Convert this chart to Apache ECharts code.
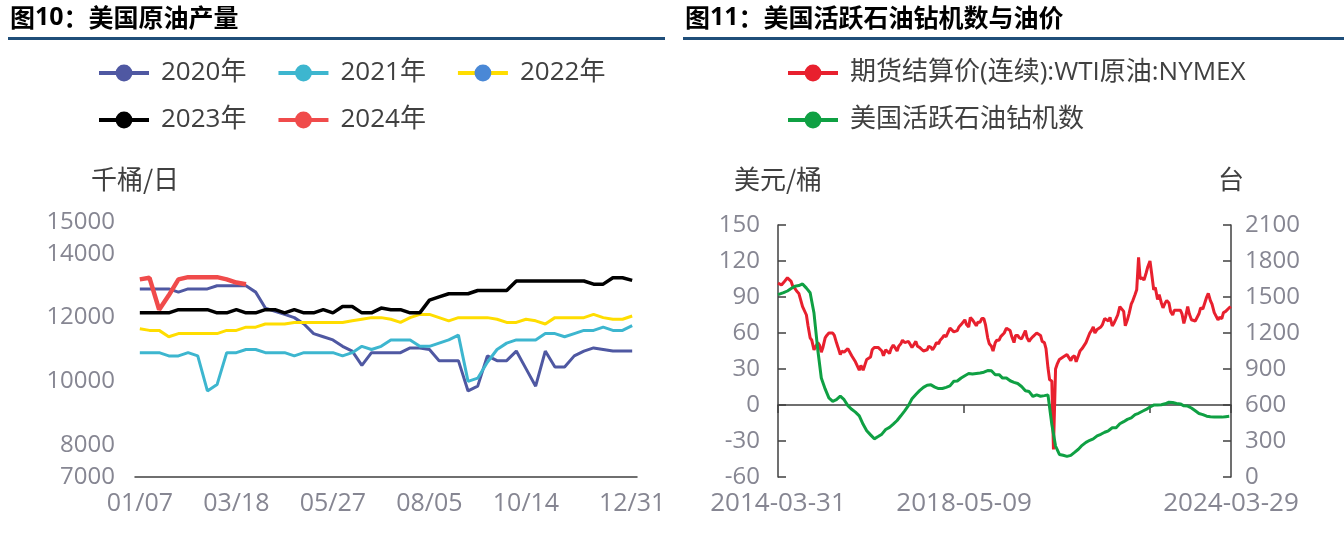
<!DOCTYPE html>
<html><head><meta charset="utf-8">
<script src="https://cdn.jsdelivr.net/npm/echarts@6/dist/echarts.min.js"></script>
<style>html,body{margin:0;padding:0;background:#fff}#c{width:1344px;height:541px}</style>
</head><body><div id="c"></div>
<script>
// ---------- Figure 10 : US crude production (kb/d), weekly ----------
const weekLabels = ['01/07','01/14','01/21','01/28','02/04','02/11','02/18','02/25','03/04','03/11',
  '03/18','03/25','04/01','04/08','04/15','04/22','04/29','05/06','05/13','05/20',
  '05/27','06/03','06/10','06/17','06/24','07/01','07/08','07/15','07/22','07/29',
  '08/05','08/12','08/19','08/26','09/02','09/09','09/16','09/23','09/30','10/07',
  '10/14','10/21','10/28','11/04','11/11','11/18','11/25','12/02','12/09','12/16',
  '12/23','12/31'];
const prod2020 = [12900,12900,12900,12900,12800,12900,12900,12900,13000,13000,
  13000,13000,12800,12300,12200,12100,12000,11800,11500,11400,
  11300,11100,10950,10500,10900,10900,10900,10900,11050,11050,
  11000,10650,10650,10650,9700,9850,10800,10650,10650,10950,
  10400,9850,10950,10450,10450,10800,10950,11050,11000,10950,
  10950,10950];
const prod2021 = [10900,10900,10900,10800,10800,10900,10800,9700,9900,10900,
  10900,11000,11000,10900,10900,10900,10800,10900,10900,10900,
  10900,10800,10900,11100,11000,11100,11300,11300,11300,11100,
  11100,11200,11300,11450,10000,10100,10600,11000,11200,11300,
  11300,11300,11500,11500,11400,11500,11600,11600,11700,11600,
  11600,11750];
const prod2022 = [11650,11600,11600,11400,11500,11500,11500,11500,11500,11600,
  11600,11700,11700,11800,11800,11800,11850,11850,11850,11850,
  11850,11850,11900,11950,12000,12000,11950,11850,12000,12100,
  12100,12000,11900,12000,12000,12000,12000,11950,11850,11850,
  11950,11900,11800,12000,12000,12000,12000,12100,12000,11950,
  11950,12050];
const prod2023 = [12150,12150,12150,12150,12250,12250,12250,12250,12150,12150,
  12250,12150,12150,12250,12250,12150,12250,12150,12150,12250,
  12150,12350,12350,12150,12150,12300,12250,12250,12150,12150,
  12550,12650,12750,12750,12750,12850,12850,12850,12850,13150,
  13150,13150,13150,13150,13150,13150,13150,13050,13050,13250,
  13250,13170];
const prod2024 = [13200,13250,12250,12700,13200,13270,13270,13270,13270,13200,
  13100,13050];
const prodYTicks = [7000, 8000, 10000, 12000, 14000, 15000];

// ---------- Figure 11 : US oil rigs & WTI ----------
const wtiStart = '2014-03-31';
const wtiValues = [101.6,
  103,100, 102,103, 106,106, 103,99, 97,95, 93,92, 82,81, 75,66, 56,54,
  46,47, 52,50, 44,48, 56,58, 60,60, 60,58, 52,48, 42,45, 44,45, 47,46, 41,41, 36,37,
  29,33, 29,33, 38,38, 40,46, 48,49, 48,48, 45,41, 46,46, 43,47, 50,48, 45,49, 51,54,
  52,53, 53,54, 48,50, 53,49, 48,49, 45,44, 46,49, 48,46, 49,52, 51,54, 56,58, 57,60,
  64,65, 61,62, 62,65, 67,68, 71,67, 65,73, 71,69, 66,69, 69,72, 72,67, 56,51, 49,45,
  52,54, 54,57, 58,60, 64,64, 62,57, 52,58, 58,56, 55,56, 62,56, 53,55, 57,57, 60,61,
  58,53, 52,47, 31,21, 20,-37, 30,34, 38,39, 40,41, 42,43, 37,40, 41,36, 41,45, 47,48,
  52,52, 60,62, 65,60, 63,64, 65,67, 72,73, 70,73, 66,68, 72,75, 82,83, 78,66, 71,76,
  84,87, 92,96, 123,105, 106,104, 110,115, 120,110, 96,98, 88,92, 85,81, 85,87, 85,78, 75,79,
  79,78, 79,76, 68,73, 82,76, 71,70, 70,70, 76,81, 80,80, 90,93, 87,84, 77,76, 71,73,
  72,77, 78,78, 81,82];
const rigValues = [1520,
  1535,1536,1550,1570,1590,1595,1609,1574,1536,
  1366,1056,825,734,660,631,645,674,644,595,564,541,
  510,439,386,351,318,337,357,396,414,441,471,510,
  551,597,652,688,720,747,765,768,749,737,738,747,
  759,798,800,825,844,862,858,862,866,873,887,885,
  852,853,824,825,802,789,779,754,719,712,671,685,
  673,678,683,438,258,188,181,172,180,205,231,264,
  289,306,318,343,356,373,385,410,411,444,461,480,
  492,520,531,548,563,584,599,601,602,610,623,621,
  613,609,593,591,575,552,529,520,507,502,500,501,
  499,503,506];
const xStart = '2014-03-31', xEnd = '2024-03-29';
const dateTicks = ['2014-03-31','2018-05-09','2022-06-17','2024-03-29'];
const dateLabels = ['2014-03-31','2018-05-09','2024-03-29'];

function utc(s){const p=s.split('-').map(Number);return Date.UTC(p[0],p[1]-1,p[2]);}
function fmt(t){const d=new Date(t);const z=n=>(n<10?'0':'')+n;return d.getUTCFullYear()+'-'+z(d.getUTCMonth()+1)+'-'+z(d.getUTCDate());}
// semimonthly dates for WTI (15th, 28th), monthly (15th) for rigs
const wtiDates=[utc(wtiStart)], rigDates=[utc(wtiStart)];
for(let y=2014,m=4;!(y===2024&&m===4);){
  wtiDates.push(Date.UTC(y,m-1,15)); wtiDates.push(Date.UTC(y,m-1,28));
  rigDates.push(Date.UTC(y,m-1,15));
  m++; if(m>12){m=1;y++;}
}
const wtiData = wtiValues.map((v,i)=>[wtiDates[i],v]);
const rigData = rigValues.map((v,i)=>[rigDates[i],v]);

const FONT = "'Open Sans','Noto Sans CJK SC',sans-serif";
const CJK = "'Noto Sans CJK SC',sans-serif";
const LBL = '#868692', AX = '#404040', TXT = '#404040';
const labelIdx = [0,10,20,30,40,51];
const plain = (v)=>String(v);
const legendBase = {itemWidth:50, itemHeight:21, itemGap:30, lineStyle:{width:4},
  textStyle:{fontSize:26,color:TXT,fontFamily:FONT,padding:[0,0,0,7]}};

const chart = echarts.init(document.getElementById('c'), null, {renderer:'canvas'});
chart.setOption({
  animation:false,
  textStyle:{fontFamily:FONT},
  title:[
    {left:5, top:0, text:'{b|图}{n|10}{b|：美国原油产量}',
     textStyle:{rich:{b:{fontSize:25,fontWeight:'bold',color:'#000',fontFamily:CJK},n:{fontSize:25,color:'#000',fontFamily:FONT}}}},
    {left:680, top:0, text:'{b|图}{n|11}{b|：美国活跃石油钻机数与油价}',
     textStyle:{rich:{b:{fontSize:25,fontWeight:'bold',color:'#000',fontFamily:CJK},n:{fontSize:25,color:'#000',fontFamily:FONT}}}}
  ],
  graphic:[
    {type:'rect', shape:{x:8,y:37,width:657,height:3}, style:{fill:'#1F4E79'}},
    {type:'rect', shape:{x:683,y:37,width:661,height:3}, style:{fill:'#1F4E79'}}
  ],
  legend:[
    Object.assign({left:92, top:55, data:['2020年','2021年','2022年']}, legendBase),
    Object.assign({left:92, top:102, data:['2023年','2024年']}, legendBase),
    Object.assign({left:781, top:55, data:['期货结算价(连续):WTI原油:NYMEX']}, legendBase),
    Object.assign({left:781, top:102, data:['美国活跃石油钻机数']}, legendBase)
  ],
  grid:[
    {left:135, right:707, top:222, bottom:64},
    {left:778, right:113, top:225, bottom:64}
  ],
  xAxis:[
    {type:'category', gridIndex:0, data:weekLabels, boundaryGap:true,
     axisLine:{lineStyle:{color:AX,width:1.5}},
     axisTick:{length:8, lineStyle:{color:AX,width:1.5}, interval:(i)=>i%10===0},
     axisLabel:{fontSize:25,color:LBL,margin:14,interval:(i)=>labelIdx.indexOf(i)>=0}},
    {type:'value', gridIndex:1, min:utc(xStart), max:utc(xEnd), scale:true,
     splitLine:{show:false},
     axisLine:{lineStyle:{color:AX,width:1.5}},
     axisTick:{length:8, lineStyle:{color:AX,width:1.5}, customValues:dateTicks.map(utc)},
     axisLabel:{fontSize:26,color:LBL,margin:14, customValues:dateLabels.map(utc), formatter:(v)=>fmt(v)}}
  ],
  yAxis:[
    {type:'value', gridIndex:0, min:7000, max:15000,
     name:'千桶/日', nameLocation:'end', nameGap:30,
     nameTextStyle:{fontSize:26,color:TXT,align:'center',fontFamily:CJK},
     axisLine:{show:false}, axisTick:{show:false}, splitLine:{show:false},
     axisLabel:{fontSize:24,color:LBL,margin:20, customValues:prodYTicks, formatter:plain}},
    {type:'value', gridIndex:1, min:-60, max:150, interval:30, position:'left',
     name:'美元/桶', nameLocation:'end', nameGap:33,
     nameTextStyle:{fontSize:26,color:TXT,align:'center',fontFamily:CJK},
     axisLine:{show:true,lineStyle:{color:AX,width:1.5}},
     axisTick:{show:true,inside:true,length:8,lineStyle:{color:AX,width:1.5}},
     splitLine:{show:false}, axisLabel:{fontSize:24,color:LBL,margin:18,formatter:plain}},
    {type:'value', gridIndex:1, min:0, max:2100, interval:300, position:'right',
     name:'台', nameLocation:'end', nameGap:33,
     nameTextStyle:{fontSize:26,color:TXT,align:'center',fontFamily:CJK},
     axisLine:{show:true,lineStyle:{color:AX,width:1.5}},
     axisTick:{show:true,inside:true,length:8,lineStyle:{color:AX,width:1.5}},
     splitLine:{show:false}, axisLabel:{fontSize:24,color:LBL,margin:14,formatter:plain}}
  ],
  series:[
    {name:'2020年', type:'line', xAxisIndex:0, yAxisIndex:0, data:prod2020, showSymbol:false, symbol:'circle',
     lineStyle:{color:'#4F58A2',width:3}, itemStyle:{color:'#4F58A2'}},
    {name:'2021年', type:'line', xAxisIndex:0, yAxisIndex:0, data:prod2021, showSymbol:false, symbol:'circle',
     lineStyle:{color:'#3DB6CF',width:3}, itemStyle:{color:'#3DB6CF'}},
    {name:'2022年', type:'line', xAxisIndex:0, yAxisIndex:0, data:prod2022, showSymbol:false, symbol:'circle',
     lineStyle:{color:'#FFDD00',width:3}, itemStyle:{color:'#4A88D6'}},
    {name:'2023年', type:'line', xAxisIndex:0, yAxisIndex:0, data:prod2023, showSymbol:false, symbol:'circle',
     lineStyle:{color:'#000000',width:3.5}, itemStyle:{color:'#000000'}},
    {name:'2024年', type:'line', xAxisIndex:0, yAxisIndex:0, data:prod2024, showSymbol:false, symbol:'circle',
     lineStyle:{color:'#F04B4B',width:4.5}, itemStyle:{color:'#F04B4B'}},
    {name:'期货结算价(连续):WTI原油:NYMEX', type:'line', xAxisIndex:1, yAxisIndex:1, data:wtiData, showSymbol:false, symbol:'circle',
     lineStyle:{color:'#E8202E',width:3}, itemStyle:{color:'#E8202E'}},
    {name:'美国活跃石油钻机数', type:'line', xAxisIndex:1, yAxisIndex:2, data:rigData, showSymbol:false, symbol:'circle',
     lineStyle:{color:'#0FA043',width:3}, itemStyle:{color:'#0FA043'}}
  ]
});
</script></body></html>
